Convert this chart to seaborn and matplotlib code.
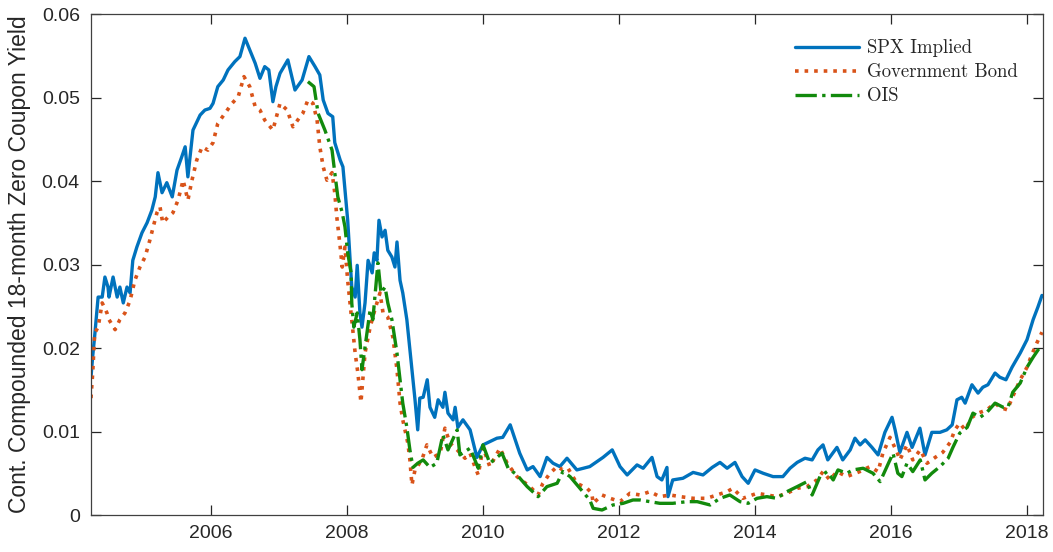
import matplotlib
matplotlib.use("Agg")
import matplotlib.pyplot as plt
import seaborn as sns
import pandas as pd

# ---------------- data (decimal year, yield) ----------------
spx_t = [2004.235, 2004.26, 2004.29, 2004.34, 2004.40, 2004.44, 2004.485, 2004.50, 2004.56, 2004.62,
         2004.66, 2004.71, 2004.765, 2004.81, 2004.85, 2004.91, 2004.985, 2005.06, 2005.13, 2005.18,
         2005.22, 2005.28, 2005.35, 2005.43, 2005.50, 2005.57, 2005.62, 2005.66, 2005.735, 2005.84,
         2005.91, 2005.985, 2006.03, 2006.10, 2006.18, 2006.25, 2006.35, 2006.425, 2006.50, 2006.57,
         2006.65, 2006.72, 2006.79, 2006.85, 2006.91, 2006.955, 2007.015, 2007.13, 2007.235, 2007.34,
         2007.44, 2007.53, 2007.60, 2007.65, 2007.72, 2007.79, 2007.82, 2007.90, 2007.94, 2007.97,
         2008.01, 2008.04, 2008.07, 2008.12, 2008.15, 2008.19, 2008.22, 2008.265, 2008.31, 2008.37,
         2008.40, 2008.44, 2008.47, 2008.515, 2008.56, 2008.60, 2008.66, 2008.705, 2008.735, 2008.78,
         2008.82, 2008.88, 2008.925, 2008.97, 2009.00, 2009.04, 2009.07, 2009.12, 2009.18, 2009.22,
         2009.29, 2009.34, 2009.41, 2009.44, 2009.485, 2009.56, 2009.59, 2009.63, 2009.705, 2009.81,
         2009.91, 2010.00, 2010.205, 2010.29, 2010.40, 2010.54, 2010.65, 2010.735, 2010.84, 2010.94,
         2011.03, 2011.13, 2011.235, 2011.38, 2011.57, 2011.765, 2011.90, 2012.015, 2012.12, 2012.265,
         2012.355, 2012.485, 2012.56, 2012.63, 2012.705, 2012.72, 2012.79, 2012.94, 2013.09, 2013.235,
         2013.37, 2013.485, 2013.59, 2013.705, 2013.81, 2013.90, 2014.00, 2014.12, 2014.265, 2014.41,
         2014.515, 2014.62, 2014.735, 2014.84, 2014.925, 2015.00, 2015.07, 2015.205, 2015.29, 2015.40,
         2015.47, 2015.545, 2015.62, 2015.72, 2015.81, 2015.91, 2016.015, 2016.06, 2016.13, 2016.235,
         2016.31, 2016.425, 2016.50, 2016.60, 2016.72, 2016.82, 2016.90, 2016.97, 2017.04, 2017.09,
         2017.19, 2017.28, 2017.35, 2017.425, 2017.53, 2017.60, 2017.69, 2017.78, 2017.90, 2018.00,
         2018.09, 2018.16, 2018.22]
spx_y = [0.0165, 0.0190, 0.0215, 0.0261, 0.0261, 0.0285, 0.0273, 0.0261, 0.0285, 0.0261,
         0.0273, 0.0254, 0.0273, 0.0266, 0.0305, 0.0321, 0.0338, 0.0350, 0.0365, 0.0381,
         0.0410, 0.0386, 0.0398, 0.0381, 0.0413, 0.0429, 0.0441, 0.0405, 0.0461, 0.0479,
         0.0485, 0.0487, 0.0493, 0.0513, 0.0521, 0.0533, 0.0543, 0.0549, 0.0571, 0.0557,
         0.0541, 0.0523, 0.0537, 0.0533, 0.0495, 0.0513, 0.0529, 0.0545, 0.0509, 0.0521,
         0.0549, 0.0537, 0.0527, 0.0497, 0.0481, 0.0477, 0.0446, 0.0425, 0.0417, 0.0389,
         0.0353, 0.0314, 0.0273, 0.0261, 0.0299, 0.0242, 0.0225, 0.0254, 0.0305, 0.0290,
         0.0314, 0.0305, 0.0353, 0.0333, 0.0341, 0.0317, 0.0309, 0.0297, 0.0327, 0.0281,
         0.0266, 0.0234, 0.0198, 0.0162, 0.0138, 0.0102, 0.0140, 0.0141, 0.0162, 0.0129,
         0.0117, 0.0138, 0.0129, 0.0147, 0.0122, 0.0114, 0.0129, 0.0105, 0.0114, 0.0102,
         0.0069, 0.0084, 0.0092, 0.0093, 0.0108, 0.0074, 0.0054, 0.0058, 0.0046, 0.0069,
         0.0062, 0.0058, 0.0068, 0.0054, 0.0058, 0.0069, 0.0078, 0.0058, 0.0048, 0.0060,
         0.0056, 0.0069, 0.0046, 0.0042, 0.0057, 0.0022, 0.0042, 0.0044, 0.0051, 0.0048,
         0.0057, 0.0063, 0.0056, 0.0063, 0.0046, 0.0038, 0.0054, 0.0050, 0.0046, 0.0046,
         0.0056, 0.0063, 0.0068, 0.0066, 0.0078, 0.0084, 0.0066, 0.0081, 0.0066, 0.0078,
         0.0092, 0.0084, 0.0090, 0.0081, 0.0072, 0.0099, 0.0117, 0.0102, 0.0075, 0.0099,
         0.0081, 0.0104, 0.0072, 0.0099, 0.0099, 0.0102, 0.0108, 0.0138, 0.0141, 0.0134,
         0.0156, 0.0146, 0.0153, 0.0156, 0.0170, 0.0165, 0.0162, 0.0177, 0.0194, 0.0210,
         0.0234, 0.0249, 0.0263]

gov_t = [2004.235, 2004.26, 2004.29, 2004.34, 2004.40, 2004.47, 2004.50, 2004.59, 2004.66, 2004.735,
         2004.81, 2004.88, 2004.955, 2005.03, 2005.10, 2005.15, 2005.205, 2005.25, 2005.29, 2005.37,
         2005.44, 2005.515, 2005.59, 2005.66, 2005.72, 2005.79, 2005.87, 2005.955, 2006.03, 2006.10,
         2006.205, 2006.31, 2006.40, 2006.485, 2006.57, 2006.65, 2006.72, 2006.79, 2006.91, 2007.015,
         2007.12, 2007.205, 2007.31, 2007.35, 2007.425, 2007.50, 2007.56, 2007.60, 2007.65, 2007.705,
         2007.78, 2007.82, 2007.85, 2007.90, 2007.93, 2007.97, 2008.01, 2008.07, 2008.12, 2008.16,
         2008.205, 2008.265, 2008.34, 2008.41, 2008.485, 2008.53, 2008.60, 2008.675, 2008.735, 2008.78,
         2008.82, 2008.895, 2008.925, 2008.955, 2009.00, 2009.10, 2009.175, 2009.265, 2009.37, 2009.44,
         2009.515, 2009.62, 2009.735, 2009.81, 2009.88, 2009.93, 2010.00, 2010.10, 2010.25, 2010.355,
         2010.50, 2010.69, 2010.81, 2010.88, 2010.985, 2011.09, 2011.175, 2011.25, 2011.38, 2011.53,
         2011.60, 2011.62, 2011.75, 2011.87, 2012.015, 2012.16, 2012.31, 2012.455, 2012.60, 2012.75,
         2012.90, 2013.09, 2013.29, 2013.44, 2013.59, 2013.675, 2013.82, 2014.03, 2014.175, 2014.32,
         2014.47, 2014.62, 2014.765, 2014.91, 2015.00, 2015.10, 2015.205, 2015.35, 2015.54, 2015.69,
         2015.81, 2015.88, 2015.985, 2016.09, 2016.13, 2016.235, 2016.32, 2016.43, 2016.53, 2016.65,
         2016.76, 2016.87, 2016.94, 2017.01, 2017.09, 2017.19, 2017.28, 2017.41, 2017.53, 2017.60,
         2017.71, 2017.78, 2017.90, 2018.00, 2018.07, 2018.15, 2018.22]
gov_y = [0.0140, 0.0170, 0.0218, 0.0225, 0.0254, 0.0242, 0.0234, 0.0222, 0.0234, 0.0242,
         0.0257, 0.0281, 0.0297, 0.0309, 0.0329, 0.0345, 0.0362, 0.0369, 0.0350, 0.0357,
         0.0362, 0.0377, 0.0401, 0.0377, 0.0401, 0.0425, 0.0441, 0.0437, 0.0446, 0.0469,
         0.0481, 0.0493, 0.0501, 0.0525, 0.0513, 0.0489, 0.0485, 0.0473, 0.0461, 0.0493,
         0.0485, 0.0465, 0.0477, 0.0481, 0.0497, 0.0493, 0.0473, 0.0441, 0.0417, 0.0401,
         0.0410, 0.0386, 0.0357, 0.0321, 0.0297, 0.0321, 0.0281, 0.0234, 0.0194, 0.0170,
         0.0135, 0.0194, 0.0225, 0.0246, 0.0266, 0.0242, 0.0237, 0.0213, 0.0174, 0.0134,
         0.0114, 0.0086, 0.0066, 0.0036, 0.0054, 0.0066, 0.0084, 0.0069, 0.0074, 0.0104,
         0.0086, 0.0078, 0.0068, 0.0074, 0.0058, 0.0048, 0.0081, 0.0058, 0.0080, 0.0062,
         0.0046, 0.0034, 0.0024, 0.0038, 0.0050, 0.0058, 0.0054, 0.0056, 0.0038, 0.0032,
         0.0026, 0.0014, 0.0024, 0.0020, 0.0016, 0.0026, 0.0024, 0.0028, 0.0022, 0.0024,
         0.0022, 0.0020, 0.0020, 0.0024, 0.0028, 0.0032, 0.0020, 0.0026, 0.0024, 0.0022,
         0.0026, 0.0032, 0.0034, 0.0042, 0.0052, 0.0042, 0.0052, 0.0046, 0.0052, 0.0058,
         0.0052, 0.0074, 0.0093, 0.0075, 0.0066, 0.0084, 0.0066, 0.0078, 0.0062, 0.0069,
         0.0075, 0.0087, 0.0102, 0.0110, 0.0102, 0.0117, 0.0122, 0.0126, 0.0134, 0.0129,
         0.0126, 0.0140, 0.0162, 0.0177, 0.0192, 0.0207, 0.0219]

ois_t = [2007.425, 2007.515, 2007.575, 2007.675, 2007.78, 2007.82, 2007.865, 2007.93, 2007.97, 2008.01,
         2008.06, 2008.07, 2008.10, 2008.15, 2008.19, 2008.22, 2008.265, 2008.34, 2008.38, 2008.455,
         2008.50, 2008.56, 2008.60, 2008.66, 2008.735, 2008.78, 2008.82, 2008.88, 2008.925, 2008.97,
         2009.04, 2009.12, 2009.22, 2009.32, 2009.41, 2009.485, 2009.62, 2009.66, 2009.81, 2009.93,
         2010.00, 2010.10, 2010.28, 2010.37, 2010.50, 2010.65, 2010.81, 2010.94, 2011.09, 2011.175,
         2011.28, 2011.425, 2011.57, 2011.62, 2011.75, 2011.91, 2012.06, 2012.205, 2012.31, 2012.455,
         2012.60, 2012.79, 2013.00, 2013.15, 2013.34, 2013.485, 2013.63, 2013.78, 2013.90, 2014.03,
         2014.175, 2014.32, 2014.47, 2014.62, 2014.765, 2014.84, 2014.955, 2015.06, 2015.15, 2015.22,
         2015.35, 2015.44, 2015.59, 2015.735, 2015.84, 2015.94, 2016.03, 2016.10, 2016.16, 2016.235,
         2016.32, 2016.43, 2016.50, 2016.60, 2016.72, 2016.84, 2016.91, 2017.01, 2017.12, 2017.205,
         2017.31, 2017.41, 2017.53, 2017.65, 2017.72, 2017.79, 2017.90, 2018.00, 2018.09, 2018.19]
ois_y = [0.0519, 0.0513, 0.0481, 0.0461, 0.0437, 0.0410, 0.0381, 0.0362, 0.0345, 0.0314,
         0.0290, 0.0254, 0.0225, 0.0242, 0.0210, 0.0174, 0.0201, 0.0246, 0.0234, 0.0302,
         0.0266, 0.0273, 0.0254, 0.0234, 0.0194, 0.0162, 0.0134, 0.0105, 0.0078, 0.0057,
         0.0062, 0.0066, 0.0057, 0.0062, 0.0096, 0.0078, 0.0102, 0.0072, 0.0080, 0.0056,
         0.0084, 0.0062, 0.0074, 0.0056, 0.0048, 0.0034, 0.0022, 0.0034, 0.0038, 0.0052,
         0.0046, 0.0032, 0.0018, 0.0008, 0.0006, 0.0012, 0.0014, 0.0018, 0.0018, 0.0016,
         0.0014, 0.0014, 0.0016, 0.0016, 0.0012, 0.0020, 0.0024, 0.0016, 0.0014, 0.0020,
         0.0022, 0.0020, 0.0028, 0.0034, 0.0040, 0.0024, 0.0046, 0.0052, 0.0042, 0.0054,
         0.0050, 0.0054, 0.0056, 0.0050, 0.0040, 0.0058, 0.0074, 0.0050, 0.0046, 0.0062,
         0.0052, 0.0066, 0.0042, 0.0050, 0.0058, 0.0068, 0.0081, 0.0098, 0.0105, 0.0122,
         0.0117, 0.0123, 0.0134, 0.0129, 0.0129, 0.0147, 0.0158, 0.0177, 0.0189, 0.0201]

series_names = ["SPX Implied", "Government Bond", "OIS"]
x_ticks = [2006, 2008, 2010, 2012, 2014, 2016, 2018]
y_ticks = [0, 0.01, 0.02, 0.03, 0.04, 0.05, 0.06]
y_tick_labels = ["0", "0.01", "0.02", "0.03", "0.04", "0.05", "0.06"]
y_label = "Cont. Compounded 18-month Zero Coupon Yield"

# ---------------- styling ----------------
sns.set_style("ticks")
plt.rcParams["font.family"] = ["Liberation Sans", "DejaVu Sans"]
plt.rcParams["xtick.direction"] = "in"
plt.rcParams["ytick.direction"] = "in"

fig = plt.figure(figsize=(10.53, 5.52), dpi=100)
ax = fig.add_axes([0.0864, 0.067, 0.9041, 0.9076])

styles = [
    dict(color="#0072BD", linestyle="-", lw=2.4),
    dict(color="#D95319", linestyle=":", lw=2.6),
    dict(color="#128A0C", linestyle="-.", lw=2.4),
]
data = [(spx_t, spx_y), (gov_t, gov_y), (ois_t, ois_y)]
for (t, y), name, st in zip(data, series_names, styles):
    df = pd.DataFrame({"t": t, "y": y})
    sns.lineplot(data=df, x="t", y="y", ax=ax, label=name, estimator=None, sort=False, **st)

ax.set_xlim(2004.235, 2018.235)
ax.set_ylim(0, 0.06)
ax.set_xticks(x_ticks)
ax.set_xticklabels([str(v) for v in x_ticks])
ax.set_yticks(y_ticks)
ax.set_yticklabels(y_tick_labels)
ax.set_xlabel("")
ax.set_ylabel(y_label, fontsize=16.5, color="#262626")
ax.yaxis.set_label_coords(-0.063, 0.5)
ax.tick_params(axis="both", which="both", labelsize=14, colors="#262626",
               top=True, right=True, length=7, width=0.9)
ax.tick_params(axis="y", pad=8)
ax.tick_params(axis="x", pad=7)
for s in ax.spines.values():
    s.set_visible(True)
    s.set_color("#404040")
    s.set_linewidth(0.9)

leg = ax.legend(loc="upper right", frameon=False, prop={"family": "cmr10", "size": 13.5},
                handlelength=3.4, handletextpad=0.45, labelspacing=0.32,
                bbox_to_anchor=(0.9916, 0.983))

fig.savefig("out.png", dpi=100)
